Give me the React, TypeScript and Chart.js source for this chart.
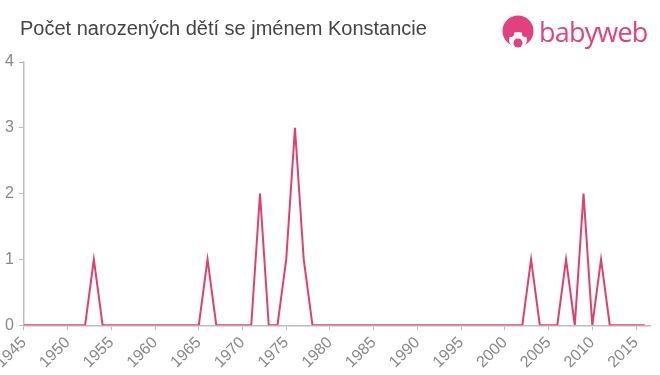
import React, { useEffect, useRef } from "react";
import { Chart, registerables } from "chart.js";

Chart.register(...registerables);

const TITLE = "Počet narozených dětí se jménem Konstancie";

const years: number[] = [
  1945, 1946, 1947, 1948, 1949, 1950, 1951, 1952, 1953, 1954,
  1955, 1956, 1957, 1958, 1959, 1960, 1961, 1962, 1963, 1964,
  1965, 1966, 1967, 1968, 1969, 1970, 1971, 1972, 1973, 1974,
  1975, 1976, 1977, 1978, 1979, 1980, 1981, 1982, 1983, 1984,
  1985, 1986, 1987, 1988, 1989, 1990, 1991, 1992, 1993, 1994,
  1995, 1996, 1997, 1998, 1999, 2000, 2001, 2002, 2003, 2004,
  2005, 2006, 2007, 2008, 2009, 2010, 2011, 2012, 2013, 2014,
  2015, 2016,
];

const counts: number[] = [
  0, 0, 0, 0, 0, 0, 0, 0, 1, 0,
  0, 0, 0, 0, 0, 0, 0, 0, 0, 0,
  0, 1, 0, 0, 0, 0, 0, 2, 0, 0,
  1, 3, 1, 0, 0, 0, 0, 0, 0, 0,
  0, 0, 0, 0, 0, 0, 0, 0, 0, 0,
  0, 0, 0, 0, 0, 0, 0, 0, 1, 0,
  0, 0, 1, 0, 2, 0, 1, 0, 0, 0,
  0, 0,
];

const xTicks: number[] = [1945, 1950, 1955, 1960, 1965, 1970, 1975, 1980, 1985, 1990, 1995, 2000, 2005, 2010, 2015];
const yTicks: number[] = [0, 1, 2, 3, 4];

const xMin = 1945;
const xMax = 2016.6;

const LINE_COLOR = "#e0406e";
const AXIS_COLOR = "#bdbdbd";
const LABEL_COLOR = "#888888";
const LOGO_COLOR = "#e2407f";
const FONT = "'Liberation Sans', Arial, Helvetica, sans-serif";

export default function App() {
  const ref = useRef<HTMLCanvasElement | null>(null);

  useEffect(() => {
    if (!ref.current) return;
    const chart = new Chart(ref.current, {
      type: "line",
      data: {
        datasets: [
          {
            data: years.map((y, i) => ({ x: y, y: counts[i] })),
            borderColor: LINE_COLOR,
            borderWidth: 2,
            pointRadius: 0,
            tension: 0,
            fill: false,
          },
        ],
      },
      options: {
        animation: false,
        responsive: false,
        layout: { padding: { top: 62, left: 0, right: 10, bottom: 0 } },
        plugins: {
          legend: { display: false },
          title: { display: false },
          tooltip: { enabled: false },
        },
        scales: {
          x: {
            type: "linear",
            min: xMin,
            max: xMax,
            grid: {
              drawOnChartArea: false,
              drawTicks: true,
              tickLength: 5,
              color: AXIS_COLOR,
            },
            border: { color: AXIS_COLOR, width: 1.5 },
            afterBuildTicks: (scale: any) => {
              scale.ticks = xTicks.map((v) => ({ value: v }));
            },
            afterFit: (scale: any) => {
              scale.paddingLeft = 0;
              scale.paddingRight = 0;
            },
            ticks: {
              autoSkip: false,
              minRotation: 45,
              maxRotation: 45,
              color: LABEL_COLOR,
              font: { family: FONT, size: 16 },
              padding: 3,
              callback: (v: any) => String(v),
            },
          },
          y: {
            min: 0,
            max: 4,
            grid: {
              drawOnChartArea: false,
              drawTicks: true,
              tickLength: 5,
              color: AXIS_COLOR,
            },
            border: { color: AXIS_COLOR, width: 1.5 },
            afterBuildTicks: (scale: any) => {
              scale.ticks = yTicks.map((v) => ({ value: v }));
            },
            ticks: {
              color: LABEL_COLOR,
              font: { family: FONT, size: 16 },
              padding: 5,
            },
          },
        },
      },
    });
    return () => chart.destroy();
  }, []);

  return (
    <div
      style={{
        position: "fixed",
        left: 0,
        top: 0,
        width: 660,
        height: 375,
        background: "#fff",
        overflow: "hidden",
      }}
    >
      <canvas ref={ref} width={660} height={375} style={{ display: "block" }} />
      <div
        style={{
          position: "absolute",
          left: 20,
          top: 17,
          fontFamily: FONT,
          fontSize: 20,
          color: "#444",
          whiteSpace: "nowrap",
        }}
      >
        {TITLE}
      </div>
      <div
        style={{
          position: "absolute",
          left: 501,
          top: 15,
          display: "flex",
          alignItems: "center",
        }}
      >
        <svg width="34" height="34" viewBox="0 0 34 34">
          <circle cx="17" cy="16" r="15.5" fill={LOGO_COLOR} />
          <ellipse cx="17" cy="25" rx="9" ry="8" fill="#fff" />
          <circle cx="10" cy="19" r="3" fill={LOGO_COLOR} />
          <circle cx="24" cy="19" r="3" fill={LOGO_COLOR} />
          <circle cx="17" cy="28" r="4.5" fill={LOGO_COLOR} />
        </svg>
        <span
          style={{
            marginLeft: 4,
            fontFamily: "'Open Sans', Arial, sans-serif",
            fontSize: 27,
            fontWeight: 500,
            color: LOGO_COLOR,
            letterSpacing: -0.8,
            lineHeight: "34px",
          }}
        >
          babyweb
        </span>
      </div>
    </div>
  );
}
